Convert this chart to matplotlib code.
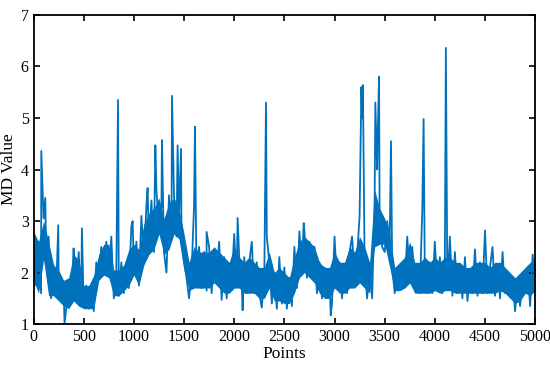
import numpy as np
import matplotlib
matplotlib.use("Agg")
from matplotlib import pyplot as plt

# trace read every 25 points (0 .. 5000), alternating upper / lower swings
step = 25
md_base = [
    2.8, 1.75, 2.6, 1.6, 3.05, 2.4, 2.7, 1.5, 2.1, 1.6, 2.0, 1.5, 1.7, 1.3, 1.8, 1.4, 2.45, 1.5, 2.4, 1.4,
    1.35, 1.75, 1.3, 1.7, 1.25, 2.2, 1.9, 2.5, 2.0, 2.6, 1.95, 2.7, 1.5, 2.0, 1.55, 2.2, 1.6, 2.2, 1.7, 2.9,
    2.0, 2.6, 1.75, 3.1, 2.2, 3.3, 2.5, 3.4, 2.4, 3.6, 2.9, 3.3, 2.4, 2.0, 3.5, 2.7, 3.5, 2.7, 3.1, 2.6,
    2.2, 1.9, 1.5, 2.0, 3.3, 1.8, 2.5, 1.7, 2.4, 1.65, 2.5, 1.6, 2.4, 1.9, 2.6, 1.47, 2.3, 1.5, 2.1, 1.8,
    2.75, 1.8, 2.3, 1.8, 2.3, 1.6, 2.2, 2.6, 1.6, 2.2, 1.6, 1.32, 1.9, 2.7, 2.2, 1.4, 2.0, 1.3, 2.3, 1.4,
    2.1, 1.3, 1.9, 1.35, 2.5, 1.7, 2.8, 2.1, 2.8, 1.9, 2.6, 2.0, 2.5, 1.6, 2.2, 1.5, 2.1, 1.6, 2.0, 1.4,
    2.7, 1.8, 2.2, 1.5, 2.1, 1.6, 2.4, 2.7, 1.9, 2.3, 3.1, 5.0, 2.2, 1.5, 2.1, 1.5, 3.4, 4.0, 2.9, 2.5,
    2.4, 3.0, 2.6, 2.1, 1.6, 2.0, 1.7, 2.1, 1.8, 2.7, 1.9, 2.5, 1.7, 2.0, 1.6, 3.2, 2.0, 1.6, 2.2, 1.6,
    2.6, 1.7, 2.3, 1.6, 2.2, 1.7, 2.7, 1.55, 2.4, 1.6, 2.1, 1.5, 2.3, 1.45, 2.0, 1.6, 2.45, 1.55, 2.2, 1.6,
    2.82, 1.6, 2.1, 2.5, 1.55, 2.1, 1.5, 2.4, 1.6, 2.0, 1.6, 1.9, 1.25, 1.8, 1.35, 2.0, 1.6, 2.1, 1.35, 2.35,
    1.8,
]

# single-point spikes / dips
spike_pts = [77, 117, 246, 309, 399, 482, 842, 988, 1137, 1214, 1280, 1380, 1436, 1470,
             1609, 1725, 2034, 2084, 2317, 2693, 2962, 3268, 3283, 3407, 3430, 3444,
             3563, 3888, 4110]
spike_vals = [4.36, 3.45, 2.92, 1.0, 2.47, 2.86, 5.35, 3.0, 3.64, 4.47, 4.57, 5.43, 4.47, 4.4,
              4.83, 2.79, 3.06, 1.27, 5.3, 2.96, 1.17, 5.6, 5.64, 5.3, 4.6, 5.8,
              4.55, 4.98, 6.36]

# dense core of the noise, low / high every 50 points
band_step = 50
band_lo = [1.85, 1.6, 2.25, 1.55, 1.55, 1.45, 1.35, 1.3, 1.45, 1.35,
           1.3, 1.3, 1.3, 1.85, 1.95, 1.9, 1.55, 1.55, 1.65, 1.75,
           1.95, 1.75, 2.15, 2.35, 2.45, 2.75, 2.35, 2.45, 2.75, 2.65,
           2.05, 1.65, 1.7, 1.7, 1.7, 1.7, 1.8, 1.7, 1.6, 1.6,
           1.7, 1.7, 1.6, 1.6, 1.6, 1.5, 1.5, 1.7, 1.45, 1.45,
           1.4, 1.4, 1.6, 1.9, 2.0, 1.9, 1.8, 1.6, 1.5, 1.5,
           1.7, 1.6, 1.6, 1.7, 1.7, 1.8, 1.7, 1.6, 2.5, 2.55,
           2.55, 2.1, 1.65, 1.65, 1.7, 1.8, 1.6, 1.6, 1.6, 1.6,
           1.65, 1.6, 1.65, 1.65, 1.6, 1.6, 1.6, 1.6, 1.6, 1.6,
           1.6, 1.6, 1.6, 1.65, 1.6, 1.5, 1.4, 1.45, 1.6, 1.55,
           1.65]
band_hi = [2.8, 2.6, 3.0, 2.6, 2.15, 2.05, 1.85, 1.9, 2.35, 2.25,
           1.75, 1.75, 1.95, 2.35, 2.55, 2.55, 2.05, 2.05, 2.15, 2.45,
           2.55, 2.45, 2.95, 3.15, 3.25, 3.45, 3.05, 3.35, 3.45, 3.25,
           2.75, 2.2, 2.5, 2.4, 2.4, 2.4, 2.5, 2.4, 2.3, 2.2,
           2.5, 2.3, 2.2, 2.3, 2.2, 2.1, 2.1, 2.4, 2.0, 2.1,
           2.0, 1.9, 2.3, 2.6, 2.7, 2.6, 2.5, 2.2, 2.1, 2.1,
           2.4, 2.2, 2.2, 2.5, 2.4, 2.7, 2.5, 2.2, 3.6, 3.25,
           3.05, 2.75, 2.1, 2.2, 2.3, 2.6, 2.2, 2.2, 2.3, 2.2,
           2.3, 2.2, 2.3, 2.3, 2.2, 2.2, 2.1, 2.1, 2.2, 2.2,
           2.2, 2.1, 2.2, 2.2, 2.1, 2.0, 1.9, 2.0, 2.1, 2.2,
           2.25]

x = np.concatenate([np.arange(len(md_base)) * step, spike_pts])
y = np.concatenate([md_base, spike_vals])
order = np.argsort(x, kind="stable")
x, y = x[order], y[order]
xb = np.arange(len(band_lo)) * band_step

plt.rcParams['font.family'] = ['Liberation Serif', 'DejaVu Serif']

fig = plt.figure(figsize=(5.5, 3.73), dpi=100)
ax = fig.add_axes([0.061, 0.131, 0.912, 0.829])
ax.fill_between(xb, band_lo, band_hi, color='#0072BD', linewidth=0)
ax.plot(x, y, color='#0072BD', linewidth=1.3)

ax.set_xlim(0, 5000)
ax.set_ylim(1, 7)
ax.set_xticks(np.arange(0, 5001, 500))
ax.set_yticks(np.arange(1, 8, 1))
ax.tick_params(direction='in', top=True, right=True, length=4, width=1.2, labelsize=11.5)
for s in ax.spines.values():
    s.set_linewidth(1.3)
ax.set_xlabel('Points', fontsize=12.5, labelpad=1)
ax.set_ylabel('MD Value', fontsize=12.5, labelpad=3)

fig.savefig('out.png', dpi=100)
